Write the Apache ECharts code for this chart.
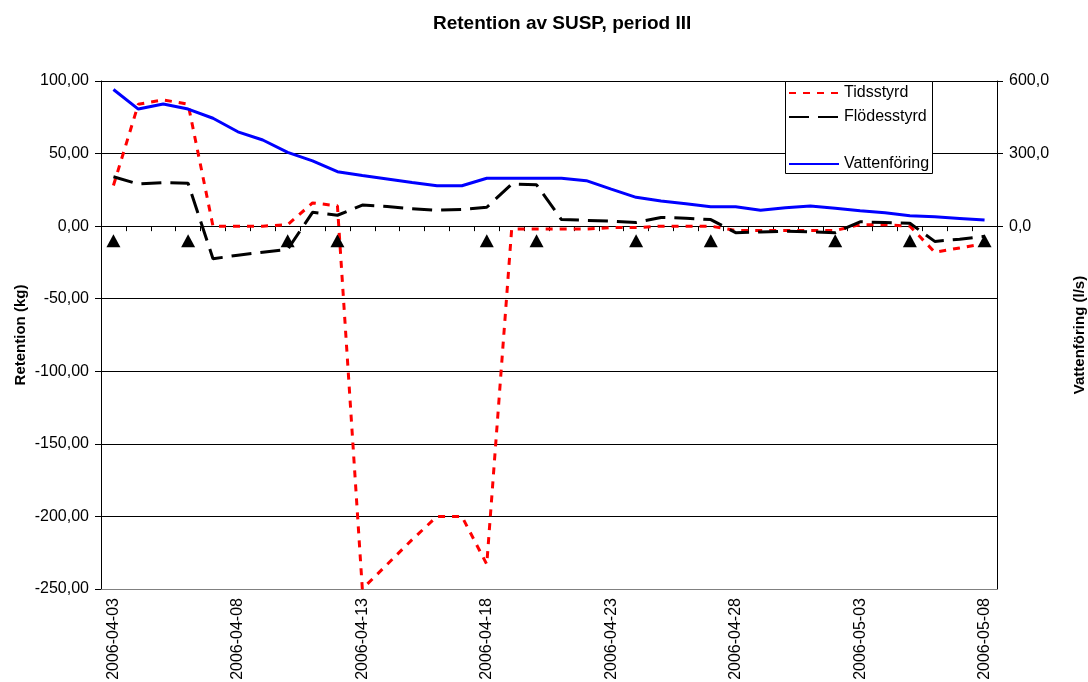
<!DOCTYPE html>
<html>
<head>
<meta charset="utf-8">
<script src="https://cdn.jsdelivr.net/npm/echarts@6/dist/echarts.min.js"></script>
<style>
  html, body { margin: 0; padding: 0; background: #fff; overflow: hidden; }
  #chart { width: 1088px; height: 682px; }
</style>
</head>
<body>
<div id="chart"></div>
<script>
// datum (kategoriaxel)
const dates = [
  '2006-04-03', '2006-04-04', '2006-04-05', '2006-04-06', '2006-04-07', '2006-04-08',
  '2006-04-09', '2006-04-10', '2006-04-11', '2006-04-12', '2006-04-13', '2006-04-14',
  '2006-04-15', '2006-04-16', '2006-04-17', '2006-04-18', '2006-04-19', '2006-04-20',
  '2006-04-21', '2006-04-22', '2006-04-23', '2006-04-24', '2006-04-25', '2006-04-26',
  '2006-04-27', '2006-04-28', '2006-04-29', '2006-04-30', '2006-05-01', '2006-05-02',
  '2006-05-03', '2006-05-04', '2006-05-05', '2006-05-06', '2006-05-07', '2006-05-08'
]

// retention (kg)
const tidsstyrd = [28, 84, 87, 84, 0, 0, 0, 1, 16, 14, -250, -233, -216, -200, -200, -233, -2, -2,
  -2, -2, -1, -1, 0, 0, 0, -3, -3, -3, -3, -3, 1, 1, 0, -18, -15, -12]
const flodesstyrd = [34, 29, 30, 29.5, -22.5, -20, -18, -16, 9.5, 7.5, 14.5, 13.5, 12, 11, 11.5, 13, 29, 28.5,
  4.5, 4, 3.5, 2.5, 6, 5.5, 4.5, -4.5, -4, -3.5, -4, -4.5, 3, 2.5, 2, -10.5, -9, -7]

// vattenföring (l/s)
const vattenforing = [565, 484, 505, 484, 446, 390, 356, 305, 270, 225, 209, 195, 180, 167, 167, 198, 198, 198,
  198, 188, 153, 119, 104, 93, 80, 80, 66, 76, 83, 74, 64, 55, 43, 39, 32, 25]

// provtagningstillfällen (trianglar)
const provDates = ['2006-04-03', '2006-04-06', '2006-04-10', '2006-04-12', '2006-04-18', '2006-04-20',
  '2006-04-24', '2006-04-27', '2006-05-02', '2006-05-05', '2006-05-08']
const provLevel = -10

const leftTicks = [-250, -200, -150, -100, -50, 0, 50, 100]
const rightTicks = [0, 300, 600]

const font = 'Liberation Sans, Arial, sans-serif'
const chart = echarts.init(document.getElementById('chart'))

chart.setOption({
  backgroundColor: '#fff',
  animation: false,
  textStyle: { fontFamily: font, color: '#000' },
  title: {
    text: 'Retention av SUSP, period III',
    left: 428,
    top: 9,
    textStyle: { fontSize: 19, fontWeight: 'bold', color: '#000', fontFamily: font }
  },
  grid: { left: 101, right: 91, top: 81, bottom: 93, containLabel: false, outerBoundsMode: 'none' },
  legend: [
    {
      left: 783,
      top: 80,
      orient: 'vertical',
      itemWidth: 50,
      itemHeight: 16,
      itemGap: 8,
      z: 5,
      data: ['Tidsstyrd', 'Flödesstyrd'],
      itemStyle: { opacity: 0 },
      textStyle: { fontSize: 16, color: '#000', fontFamily: font }
    },
    {
      left: 783,
      top: 151,
      itemWidth: 50,
      itemHeight: 16,
      z: 5,
      data: ['Vattenföring'],
      itemStyle: { opacity: 0 },
      textStyle: { fontSize: 16, color: '#000', fontFamily: font }
    }
  ],
  graphic: [
    {
      type: 'rect',
      z: 4,
      shape: { x: 785.5, y: 81.5, width: 147, height: 92 },
      style: { fill: '#fff', stroke: '#000', lineWidth: 1 }
    }
  ],
  xAxis: [
    {
      type: 'category',
      data: dates,
      boundaryGap: true,
      position: 'bottom',
      axisLine: { onZero: false, lineStyle: { color: '#808080', width: 1 } },
      axisTick: { show: false },
      axisLabel: {
        interval: 4,
        rotate: 90,
        margin: 9,
        fontSize: 16,
        color: '#000',
        fontFamily: font
      },
      splitLine: { show: false }
    },
    {
      type: 'category',
      data: dates,
      boundaryGap: true,
      position: 'bottom',
      axisLine: { onZero: true, onZeroAxisIndex: 0, lineStyle: { color: '#000', width: 1 } },
      axisTick: { show: true, interval: 0, length: 5, lineStyle: { color: '#000' } },
      axisLabel: { show: false },
      splitLine: { show: false }
    }
  ],
  yAxis: [
    {
      type: 'value',
      min: -250,
      max: 100,
      interval: 50,
      position: 'left',
      name: 'Retention (kg)',
      nameLocation: 'middle',
      nameGap: 73,
      nameMoveOverlap: false,
      nameTextStyle: { fontSize: 15, fontWeight: 'bold', color: '#000', fontFamily: font },
      axisLine: { show: true, lineStyle: { color: '#000' } },
      axisTick: { show: true, length: 6, lineStyle: { color: '#000' } },
      axisLabel: {
        customValues: leftTicks,
        margin: 12,
        fontSize: 16,
        color: '#000',
        fontFamily: font,
        formatter: v => v.toFixed(2).replace('.', ',')
      },
      splitLine: { show: true, lineStyle: { color: '#000', width: 1 } }
    },
    {
      type: 'value',
      min: -1500,
      max: 600,
      interval: 300,
      position: 'right',
      name: 'Vattenföring (l/s)',
      nameLocation: 'middle',
      nameGap: 75,
      nameMoveOverlap: false,
      nameRotate: 90,
      nameTextStyle: { fontSize: 15, fontWeight: 'bold', color: '#000', fontFamily: font },
      axisLine: { show: true, lineStyle: { color: '#000' } },
      axisTick: { show: true, length: 6, customValues: rightTicks, lineStyle: { color: '#000' } },
      axisLabel: {
        customValues: rightTicks,
        margin: 12,
        fontSize: 16,
        color: '#000',
        fontFamily: font,
        formatter: v => v.toFixed(1).replace('.', ',')
      },
      splitLine: { show: false }
    }
  ],
  series: [
    {
      name: 'Tidsstyrd',
      type: 'line',
      yAxisIndex: 0,
      data: tidsstyrd,
      symbol: 'none',
      color: '#ff0000',
      lineStyle: { color: '#ff0000', width: 3, type: [7, 7] }
    },
    {
      name: 'Flödesstyrd',
      type: 'line',
      yAxisIndex: 0,
      data: flodesstyrd,
      symbol: 'none',
      color: '#000',
      lineStyle: { color: '#000', width: 3, type: [20, 9] }
    },
    {
      name: 'Provtagning',
      type: 'scatter',
      yAxisIndex: 0,
      data: provDates.map(d => [d, provLevel]),
      symbol: 'triangle',
      symbolSize: [14, 13],
      itemStyle: { color: '#000', opacity: 1 },
      z: 3
    },
    {
      name: 'Vattenföring',
      type: 'line',
      yAxisIndex: 1,
      data: vattenforing,
      symbol: 'none',
      color: '#0000ff',
      lineStyle: { color: '#0000ff', width: 3 }
    }
  ]
})
</script>
</body>
</html>
